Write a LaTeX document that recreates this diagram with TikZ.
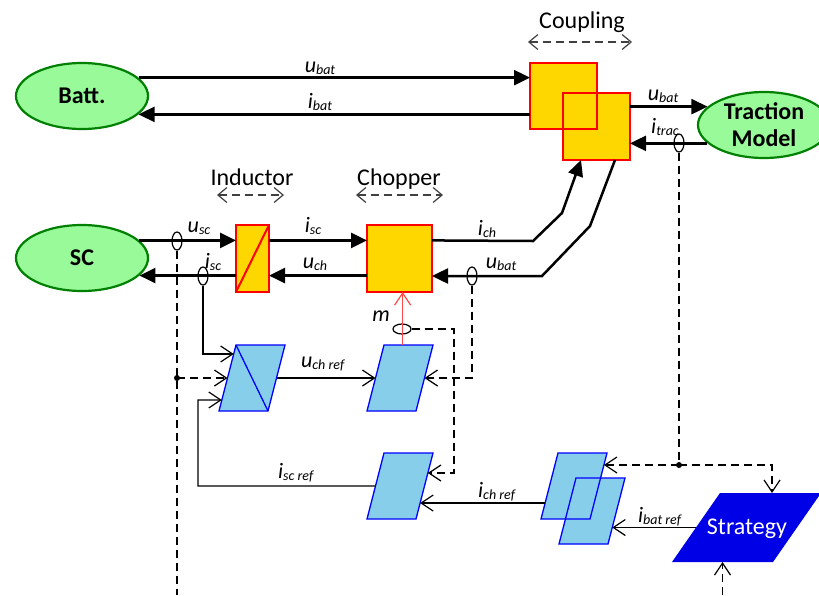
\documentclass[tikz,border=0pt]{standalone}
\usepackage{fontspec}
\setmainfont{Carlito}
\usetikzlibrary{arrows.meta,shapes.geometric,calc}

\definecolor{ellfill}{RGB}{153,250,153}
\definecolor{ellline}{RGB}{0,128,0}
\definecolor{boxfill}{RGB}{255,215,0}
\definecolor{boxline}{RGB}{255,0,0}
\definecolor{pfill}{RGB}{135,206,235}
\definecolor{pline}{RGB}{0,0,255}
\definecolor{stratfill}{RGB}{0,0,230}
\definecolor{mred}{RGB}{255,70,70}
\definecolor{dashgray}{RGB}{64,64,64}

\newcommand{\lbl}[2]{\textit{#1}\raisebox{-2.5pt}{\fontsize{14}{14}\selectfont\textit{#2}}}
\newcommand{\mkpg}[3]{%
  \coordinate (#1bl) at (#2,#3);
  \coordinate (#1br) at ($(#1bl)+(49,0)$);
  \coordinate (#1tl) at ($(#1bl)+(17,-66)$);
  \coordinate (#1tr) at ($(#1bl)+(66,-66)$);}

\begin{document}
\begin{tikzpicture}[x=1pt,y=-1pt,
  font=\fontsize{24}{28}\selectfont,
  ell/.style={ellipse, draw=ellline, fill=ellfill, line width=2.2pt, minimum width=132pt, minimum height=66pt, inner sep=0pt, font=\fontsize{24}{27}\selectfont\bfseries, align=center},
  blk/.style={rectangle, draw=boxline, fill=boxfill, line width=2.5pt, outer sep=0pt, inner sep=0pt},
  pgram/.style={draw=pline, fill=pfill, line width=1.3pt, line join=miter},
  pwr/.style={line width=2.5pt, -{Triangle[length=16pt,width=15pt]}},
  sig/.style={line width=1.2pt, -{Straight Barb[length=12pt,width=16pt]}},
  dsh/.style={line width=1.2pt, dash pattern=on 8pt off 5pt},
  dsharr/.style={dsh, -{Straight Barb[length=12pt,width=16pt]}},
  sens/.style={ellipse, draw, line width=1.2pt, inner sep=0pt, minimum width=10pt, minimum height=18pt},
  sensh/.style={ellipse, draw, line width=1.2pt, inner sep=0pt, minimum width=18pt, minimum height=10pt},
  ttl/.style={anchor=base, inner sep=0pt, font=\fontsize{24}{28}\selectfont},
  lab/.style={anchor=base, inner sep=0pt, font=\fontsize{22}{26}\selectfont},
  tarr/.style={draw=dashgray, line width=1.2pt, dash pattern=on 8pt off 5pt, {Straight Barb[length=9pt,width=15pt]}-{Straight Barb[length=9pt,width=15pt]}},
  jdot/.style={circle, fill, inner sep=0pt, minimum size=6pt}
]
\useasboundingbox (0,0) rectangle (819,595);

% ---- physical blocks ----
\node[ell] (batt) at (82,96) {Batt.};
\node[ell] (sc) at (82,258) {SC};
\node[ell] (trac) at (764,125) {Traction\\Model};

\node[blk, minimum width=67pt, minimum height=66pt] (cp1) at (563.5,96) {};
\node[blk, minimum width=67pt, minimum height=67pt] (cp2) at (596.5,126.5) {};
\draw[draw=boxline, line width=2.5pt] (cp1.south west) rectangle (cp1.north east);

\node[blk, minimum width=33pt, minimum height=67pt] (ind) at (252.5,258.5) {};
\draw[boxline, line width=2pt] (ind.south west) -- (ind.north east);
\node[blk, minimum width=65pt, minimum height=67pt] (chop) at (399.5,258.5) {};

% ---- titles ----
\node[ttl] (tcoup) at (582,28) {Coupling};
\draw[tarr] (tcoup.base) ++(-54,14) -- ++(104,0);
\node[ttl] (tind) at (252,185) {Inductor};
\draw[tarr] (tind.base) ++(-35,10) -- ++(67,0);
\node[ttl] (tchop) at (399,185) {Chopper};
\draw[tarr] (tchop.base) ++(-43,10) -- ++(87,0);

% ---- power connectors ----
\draw[pwr] (batt.18) -- (batt.18 -| cp1.west);
\draw[pwr] (cp1.west |- batt.-18) -- (batt.-18);
\draw[pwr] (cp2.east |- trac.162) -- (trac.162);
\draw[pwr] (trac.198) -- (trac.198 -| cp2.east);
\draw[pwr] (sc.17) -- (sc.17 -| ind.west);
\draw[pwr] (ind.west |- sc.-17) -- (sc.-17);
\draw[pwr] (ind.east |- sc.17) -- (chop.west |- sc.17);
\draw[pwr] (chop.west |- sc.-17) -- (ind.east |- sc.-17);
\coordinate (ich1) at (533,241);
\coordinate (ich2) at (562,213);
\draw[pwr] (chop.east |- sc.17) -- (ich1) -- (ich2) -- ($(cp2.south west)+(18,0)$);
\coordinate (ub1) at (590,226);
\coordinate (ub2) at (542,276);
\draw[pwr] ($(cp2.south west)+(52,0)$) -- (ub1) -- (ub2) -- (chop.east |- ub2);

% ---- sensors ----
\node[sens] (s1) at (177,241) {};
\node[sens] (s2) at (203,276) {};
\node[sens] (s3) at (472,276) {};
\node[sens] (s4) at (679,143) {};
\node[sensh] (s5) at (402,329) {};

% ---- control blocks ----
\mkpg{P1}{219}{411}
\mkpg{P2}{367}{411}
\mkpg{P3}{367}{519}
\mkpg{P4a}{541}{519}
\mkpg{P4b}{559}{544}
\path[pgram] (P1bl) -- (P1br) -- (P1tr) -- (P1tl) -- cycle;
\draw[pline, line width=1.3pt] (P1tl) -- (P1br);
\path[pgram] (P2bl) -- (P2br) -- (P2tr) -- (P2tl) -- cycle;
\path[pgram] (P3bl) -- (P3br) -- (P3tr) -- (P3tl) -- cycle;
\fill[pfill] (P4abl) -- (P4abr) -- (P4atr) -- (P4atl) -- cycle;
\fill[pfill] (P4bbl) -- (P4bbr) -- (P4btr) -- (P4btl) -- cycle;
\draw[pline, line width=1.3pt, line join=miter] (P4abl) -- (P4abr) -- (P4atr) -- (P4atl) -- cycle;
\draw[pline, line width=1.3pt, line join=miter] (P4bbl) -- (P4bbr) -- (P4btr) -- (P4btl) -- cycle;

\coordinate (Sbl) at (672,562);
\coordinate (Sbr) at (773,562);
\coordinate (Stl) at (720,493);
\coordinate (Str) at (821,493);
\fill[stratfill] (Sbl) -- (Sbr) -- (Str) -- (Stl) -- cycle;
\node[text=white, inner sep=0pt] (strat) at (747,529) {Strategy};

% ---- connection points ----
\coordinate (P1in1) at ($(P1bl)!0.864!(P1tl)$);
\coordinate (P1in2) at ($(P1bl)!0.5!(P1tl)$);
\coordinate (P1in3) at ($(P1bl)!0.167!(P1tl)$);
\coordinate (P1out) at ($(P1br)!0.5!(P1tr)$);
\coordinate (P2in) at ($(P2bl)!0.5!(P2tl)$);
\coordinate (P2rin) at ($(P2br)!0.5!(P2tr)$);
\coordinate (P2top) at ($(P2tl)!0.38!(P2tr)$);
\coordinate (P3rin1) at ($(P3br)!0.697!(P3tr)$);
\coordinate (P3rin2) at ($(P3br)!0.242!(P3tr)$);
\coordinate (P3out) at ($(P3bl)!0.5!(P3tl)$);
\coordinate (P4out) at ($(P4abl)!0.242!(P4atl)$);
\coordinate (P4ain) at ($(P4abr)!0.818!(P4atr)$);
\coordinate (P4bin) at ($(P4bbr)!0.25!(P4btr)$);
\coordinate (Sout) at ($(Sbl)!0.5!(Stl)$);
\coordinate (Stop) at ($(Stl)!0.515!(Str)$);
\coordinate (Sbot) at ($(Sbl)!0.5!(Sbr)$);
\coordinate (j1) at (s1 |- P1in2);
\coordinate (j2) at (s4 |- P4ain);
\coordinate (bot1) at (177,595);
\coordinate (bot2) at (722.5,595);
\coordinate (iscc) at (198,400);
\coordinate (mcorn) at (454,329);

% ---- control connectors ----
\draw[sig] (s2.south) |- (P1in1);
\draw[dsh] (s1.south) -- (bot1);
\draw[dsharr] (j1) -- (P1in2);
\node[jdot] (d1) at (j1) {};
\draw[sig] (P1out) -- (P2in);
\draw[sig] (P3out) -| (iscc) -- (P1in3);
\draw[dsharr] (s3.south) |- (P2rin);
\draw[sig, mred] (P2top) -- (P2top |- chop.south);
\draw[dsharr] (s5.east) -- (mcorn) |- (P3rin1);
\draw[sig] (P4out) -- (P3rin2);
\draw[dsh] (s4.south) -- (j2);
\draw[dsharr] (j2) -- (P4ain);
\draw[dsharr] (j2) -| (Stop);
\node[jdot] (d2) at (j2) {};
\draw[sig] (Sout) -- (P4bin);
\draw[dsharr] (bot2) -- (Sbot);

% ---- labels ----
\node[lab] (l1) at (320,72) {\lbl{u}{bat}};
\node[lab] (l2) at (320,108) {\lbl{i}{bat}};
\node[lab] (l3) at (663,100) {\lbl{u}{bat}};
\node[lab] (l4) at (665,133) {\lbl{i}{trac}};
\node[lab] (l5) at (199,232) {\lbl{u}{sc}};
\node[lab] (l6) at (213,268) {\lbl{i}{sc}};
\node[lab] (l7) at (313,232) {\lbl{i}{sc}};
\node[lab] (l8) at (315,268) {\lbl{u}{ch}};
\node[lab] (l9) at (487,235) {\lbl{i}{ch}};
\node[lab] (l10) at (501,268) {\lbl{u}{bat}};
\node[lab] (l11) at (381,321) {\textit{m}};
\node[lab] (l12) at (323,367) {\lbl{u}{ch ref}};
\node[lab] (l13) at (296,478) {\lbl{i}{sc ref}};
\node[lab] (l14) at (497,497) {\lbl{i}{ch ref}};
\node[lab] (l15) at (660,522) {\lbl{i}{bat ref}};
\end{tikzpicture}
\end{document}
